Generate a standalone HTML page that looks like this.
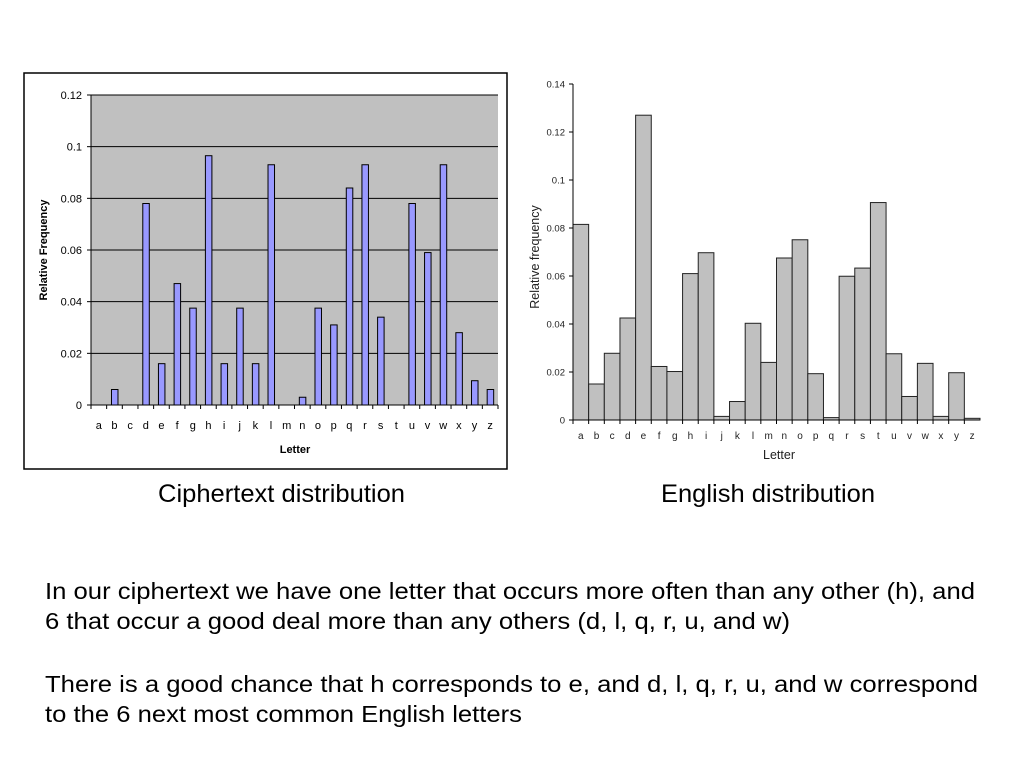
<!DOCTYPE html>
<html><head><meta charset="utf-8"><style>
html,body{margin:0;padding:0;background:#fff;}
svg{display:block;font-family:"Liberation Sans",Arial,sans-serif;}
</style></head><body>
<svg id="s" width="1024" height="767" viewBox="0 0 1024 767">
<rect x="24" y="73" width="483" height="396" fill="#fff" stroke="#000" stroke-width="1.5"/>
<rect x="91" y="95" width="407" height="310" fill="#c0c0c0"/>
<g id="L"></g>
<g id="R"></g>
<text x="158" y="502" font-size="25" textLength="247" lengthAdjust="spacingAndGlyphs">Ciphertext distribution</text>
<text x="661" y="502" font-size="25" textLength="214" lengthAdjust="spacingAndGlyphs">English distribution</text>
<g font-size="23">
<text x="45" y="599" textLength="930" lengthAdjust="spacingAndGlyphs">In our ciphertext we have one letter that occurs more often than any other (h), and</text>
<text x="45" y="629" textLength="745" lengthAdjust="spacingAndGlyphs">6 that occur a good deal more than any others (d, l, q, r, u, and w)</text>
<text x="45" y="692" textLength="933" lengthAdjust="spacingAndGlyphs">There is a good chance that h corresponds to e, and d, l, q, r, u, and w correspond</text>
<text x="45" y="722" textLength="477" lengthAdjust="spacingAndGlyphs">to the 6 next most common English letters</text>
</g>
</svg>
<script>
const letters = "abcdefghijklmnopqrstuvwxyz".split("");
const cipherValues = [0,0.006,0,0.078,0.016,0.047,0.0375,0.0965,0.016,0.0375,0.016,0.093,0,0.003,0.0375,0.031,0.084,0.093,0.034,0,0.078,0.059,0.093,0.028,0.0094,0.006];
const englishValues = [0.0815,0.015,0.0278,0.0425,0.127,0.0223,0.0202,0.061,0.0697,0.0015,0.0077,0.0403,0.024,0.0675,0.0751,0.0193,0.001,0.0599,0.0633,0.0906,0.0276,0.0098,0.0236,0.0015,0.0197,0.0007];
const cipherTicks = [0,0.02,0.04,0.06,0.08,0.1,0.12];
const cipherTickLabels = ["0","0.02","0.04","0.06","0.08","0.1","0.12"];
const englishTicks = [0,0.02,0.04,0.06,0.08,0.1,0.12,0.14];
const englishTickLabels = ["0","0.02","0.04","0.06","0.08","0.1","0.12","0.14"];

const NS="http://www.w3.org/2000/svg";
function mk(p,t,a,txt){const e=document.createElementNS(NS,t);for(const k in a)e.setAttribute(k,a[k]);if(txt!==undefined)e.textContent=txt;p.appendChild(e);return e;}

const L=document.getElementById('L');
const lx0=91,lx1=498,ly0=405,ly1=95,lmax=0.12;
const lyS=v=>ly0-(v/lmax)*(ly0-ly1);
const lbw=(lx1-lx0)/letters.length;
const lxS=i=>lx0+i*lbw;
cipherTicks.forEach((t,i)=>{
  const y=lyS(t);
  if(t>0){const g=mk(L,'line',{x1:lx0,x2:lx1,y1:y,y2:y,stroke:'#000','stroke-width':1});
  
  }
  mk(L,'line',{x1:lx0-4,x2:lx0,y1:y,y2:y,stroke:'#000'});
  const tx=mk(L,'text',{x:lx0-9,y:y+4,'font-size':11,'text-anchor':'end'},cipherTickLabels[i]);
  
  
});
mk(L,'line',{x1:lx0,x2:lx0,y1:ly1,y2:ly0,stroke:'#000'});
mk(L,'line',{x1:lx0,x2:lx1,y1:ly0,y2:ly0,stroke:'#000'});
letters.forEach((c,i)=>{
  mk(L,'line',{x1:lxS(i),x2:lxS(i),y1:ly0,y2:ly0+4,stroke:'#000'});
  const v=cipherValues[i];
  if(v>0){
    const h=ly0-lyS(v);
    const b=mk(L,'rect',{x:lxS(i)+lbw/2-3,y:lyS(v),width:6.5,height:h,fill:'#9999ff',stroke:'#000','stroke-width':1});
    
    
  }
  const t=mk(L,'text',{x:lxS(i)+lbw/2,y:429,'font-size':11,'text-anchor':'middle'},c);
  
  
});
mk(L,'line',{x1:lx1,x2:lx1,y1:ly0,y2:ly0+4,stroke:'#000'});
const lxt=mk(L,'text',{x:295,y:453,'font-size':11,'font-weight':'bold','text-anchor':'middle'},'Letter');


const lyt=mk(L,'text',{x:0,y:0,'font-size':11,'font-weight':'bold','text-anchor':'middle',transform:'translate(47,250) rotate(-90)'},'Relative Frequency');



const R=document.getElementById('R');
const rx0=573,rx1=980,ry0=420,ry1=84,rmax=0.14;
const ryS=v=>ry0-(v/rmax)*(ry0-ry1);
const rbw=(rx1-rx0)/letters.length;
const rxS=i=>rx0+i*rbw;
letters.forEach((c,i)=>{
  const v=englishValues[i];
  const b=mk(R,'rect',{x:rxS(i),y:ryS(v),width:rbw,height:ry0-ryS(v),fill:'#c0c0c0',stroke:'#222','stroke-width':1});
  
  
  const t=mk(R,'text',{x:rxS(i)+rbw/2,y:439,'font-size':10,'text-anchor':'middle',fill:'#222'},c);
  
  
  mk(R,'line',{x1:rxS(i),x2:rxS(i),y1:ry0,y2:ry0+4,stroke:'#000'});
});
mk(R,'line',{x1:rx0,x2:rx0,y1:ry1,y2:ry0,stroke:'#000'});
mk(R,'line',{x1:rx0,x2:rx1,y1:ry0,y2:ry0,stroke:'#000'});
englishTicks.forEach((t,i)=>{
  const y=ryS(t);
  mk(R,'line',{x1:rx0-4,x2:rx0,y1:y,y2:y,stroke:'#000'});
  const tx=mk(R,'text',{x:rx0-8,y:y+3.5,'font-size':9.5,'text-anchor':'end',fill:'#222'},englishTickLabels[i]);
  
  
});
const rxt=mk(R,'text',{x:779,y:459,'font-size':12.5,'text-anchor':'middle',fill:'#222'},'Letter');


const ryt=mk(R,'text',{x:0,y:0,'font-size':12.5,'text-anchor':'middle',fill:'#222',transform:'translate(539,257) rotate(-90)'},'Relative frequency');


</script>
</body></html>
